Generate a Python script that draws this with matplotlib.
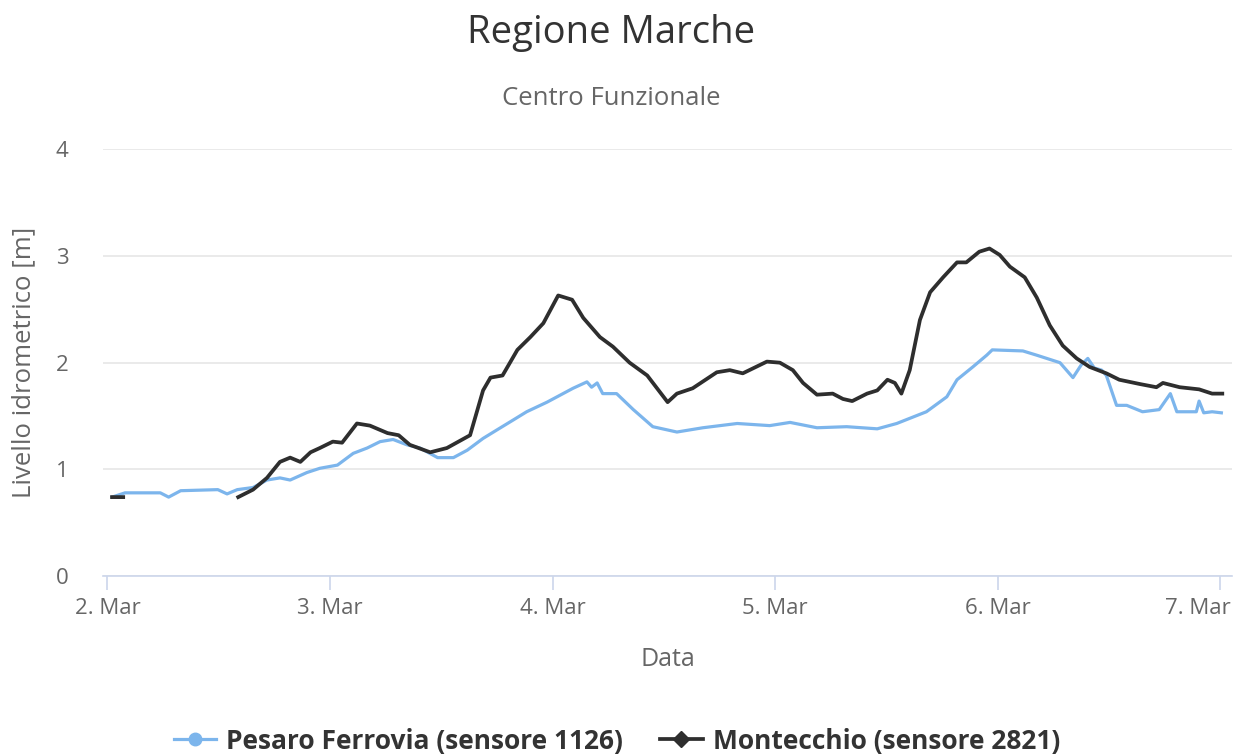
import numpy as np
import pandas as pd
import matplotlib
matplotlib.use("Agg")
import matplotlib.pyplot as plt
import matplotlib.transforms as mtransforms
from matplotlib.lines import Line2D

plt.rcParams['font.family'] = ['Open Sans', 'DejaVu Sans']

# hours after 2 Mar 00:00, level in metres
start = pd.Timestamp("2021-03-02 00:00")

pesaro_hours = [0.5, 1.9, 5.7, 6.6, 7.9, 11.9, 12.9, 14.0, 15.7, 17.2, 18.6, 19.7,
                21.5, 22.9, 24.8, 26.5, 28.0, 29.4, 30.8, 32.3, 33.7, 35.6, 37.3,
                38.8, 40.5, 42.0, 43.7, 45.2, 47.4, 50.2, 51.7, 52.2, 52.8, 53.4,
                54.9, 56.7, 58.8, 61.4, 64.2, 67.9, 71.4, 73.6, 76.5, 79.7, 83.0,
                85.1, 88.3, 90.5, 91.6, 93.3, 94.8, 95.4, 98.7, 100.2, 102.7, 104.1,
                105.0, 105.7, 106.4, 107.2, 107.7, 108.8, 109.9, 111.6, 113.4, 114.6,
                115.3, 117.4, 117.7, 118.2, 119.1, 120.1]
pesaro_level = [0.74, 0.78, 0.78, 0.74, 0.80, 0.81, 0.77, 0.81, 0.83, 0.90, 0.92, 0.90,
                0.97, 1.01, 1.04, 1.15, 1.20, 1.26, 1.28, 1.23, 1.20, 1.11, 1.11,
                1.18, 1.29, 1.37, 1.46, 1.54, 1.63, 1.76, 1.82, 1.77, 1.81, 1.71,
                1.71, 1.56, 1.40, 1.35, 1.39, 1.43, 1.41, 1.44, 1.39, 1.40, 1.38,
                1.43, 1.54, 1.68, 1.84, 1.96, 2.07, 2.12, 2.11, 2.07, 2.00, 1.86,
                1.98, 2.04, 1.95, 1.93, 1.88, 1.60, 1.60, 1.54, 1.56, 1.71,
                1.54, 1.54, 1.64, 1.53, 1.54, 1.53]

# NaN marks the gap in the Montecchio record
montecchio_hours = [0.5, 1.7, 8.0, 14.1, 15.7, 17.2, 18.6, 19.7, 20.8, 21.9, 22.9, 24.3,
                    25.3, 26.9, 28.3, 30.2, 31.4, 32.6, 34.8, 36.6, 39.1, 40.5, 41.3,
                    42.6, 44.2, 45.6, 47.0, 48.6, 50.1, 51.3, 53.1, 54.5, 56.3, 58.2,
                    60.4, 61.4, 63.1, 65.7, 67.1, 68.5, 71.1, 72.5, 73.9, 75.0, 76.5,
                    78.2, 79.3, 80.3, 81.9, 83.0, 84.1, 84.9, 85.6, 86.5, 87.6, 88.7,
                    90.1, 91.6, 92.6, 94.0, 95.1, 96.2, 97.3, 98.9, 100.2, 101.6, 103.0,
                    104.5, 105.9, 107.7, 109.1, 111.3, 113.1, 113.8, 115.6, 117.7,
                    119.1, 120.2]
montecchio_level = [0.74, 0.74, np.nan, 0.74, 0.81, 0.92, 1.07, 1.11, 1.07, 1.16, 1.20, 1.26,
                    1.25, 1.43, 1.41, 1.34, 1.32, 1.23, 1.16, 1.20, 1.32, 1.74, 1.86,
                    1.88, 2.12, 2.24, 2.37, 2.63, 2.59, 2.42, 2.24, 2.15, 2.00, 1.88,
                    1.63, 1.71, 1.76, 1.91, 1.93, 1.90, 2.01, 2.00, 1.93, 1.81, 1.70,
                    1.71, 1.66, 1.64, 1.71, 1.74, 1.84, 1.81, 1.71, 1.93, 2.40, 2.66,
                    2.80, 2.94, 2.94, 3.04, 3.07, 3.01, 2.90, 2.80, 2.61, 2.35, 2.16,
                    2.04, 1.96, 1.90, 1.84, 1.80, 1.77, 1.81, 1.77, 1.75,
                    1.71, 1.71]

day_hours = [0, 24, 48, 72, 96, 120]
day_labels = ['2. Mar', '3. Mar', '4. Mar', '5. Mar', '6. Mar', '7. Mar']
y_ticks = [0, 1, 2, 3, 4]

blue = '#7cb5ec'
dark = '#2e2e2e'
grey_txt = '#666666'


def to_dates(hours):
    return start + pd.to_timedelta(hours, unit='h')


fig = plt.figure(figsize=(12.44, 7.54), dpi=100)
ax = fig.add_axes([0.083, 0.236, 0.907, 0.566])

ax.plot(to_dates(pesaro_hours), pesaro_level, color=blue, lw=2.3, zorder=3)
ax.plot(to_dates(montecchio_hours), montecchio_level, color=dark, lw=2.7, zorder=4)

ax.set_ylim(0, 4)
ax.set_yticks(y_ticks)
ax.set_xlim(to_dates([-0.45])[0], to_dates([121.2])[0])
ax.set_xticks(to_dates(day_hours), day_labels)

ax.grid(axis='y', color='#e6e6e6', lw=1.2)
ax.set_axisbelow(True)
for s in ['top', 'right', 'left']:
    ax.spines[s].set_visible(False)
ax.spines['bottom'].set_color('#ccd6eb')
ax.spines['bottom'].set_linewidth(1.2)
ax.tick_params(axis='x', length=10, color='#ccd6eb', width=1.2, pad=6,
               labelsize=16, labelcolor=grey_txt)
ax.tick_params(axis='y', length=0, pad=25, labelsize=16, labelcolor=grey_txt)

ax.set_ylabel('Livello idrometrico [m]', fontsize=18.5, color=grey_txt)
ax.yaxis.set_label_coords(-0.059, 0.5)
ax.set_xlabel('Data', fontsize=18, color=grey_txt, labelpad=20)

# keep the last date label inside the figure, like the original
last = ax.get_xticklabels()[-1]
last.set_horizontalalignment('right')
last.set_transform(last.get_transform() +
                   mtransforms.ScaledTranslation(0.1, 0, fig.dpi_scale_trans))

fig.text(0.491, 0.956, 'Regione Marche', ha='center', va='center',
         fontsize=27.5, color='#333333')
fig.text(0.491, 0.870, 'Centro Funzionale', ha='center', va='center',
         fontsize=18.5, color=grey_txt)

handles = [
    Line2D([], [], color=blue, lw=2.3, marker='o', markersize=9),
    Line2D([], [], color=dark, lw=2.7, marker='D', markersize=8),
]
fig.legend(handles, ['Pesaro Ferrovia (sensore 1126)', 'Montecchio (sensore 2821)'],
           loc='center', bbox_to_anchor=(0.496, 0.017), ncol=2, frameon=False,
           prop={'size': 19, 'weight': 'bold'}, labelcolor='#333333',
           handlelength=1.6, columnspacing=1.4, handletextpad=0.4)

fig.savefig('out.png', dpi=100)
